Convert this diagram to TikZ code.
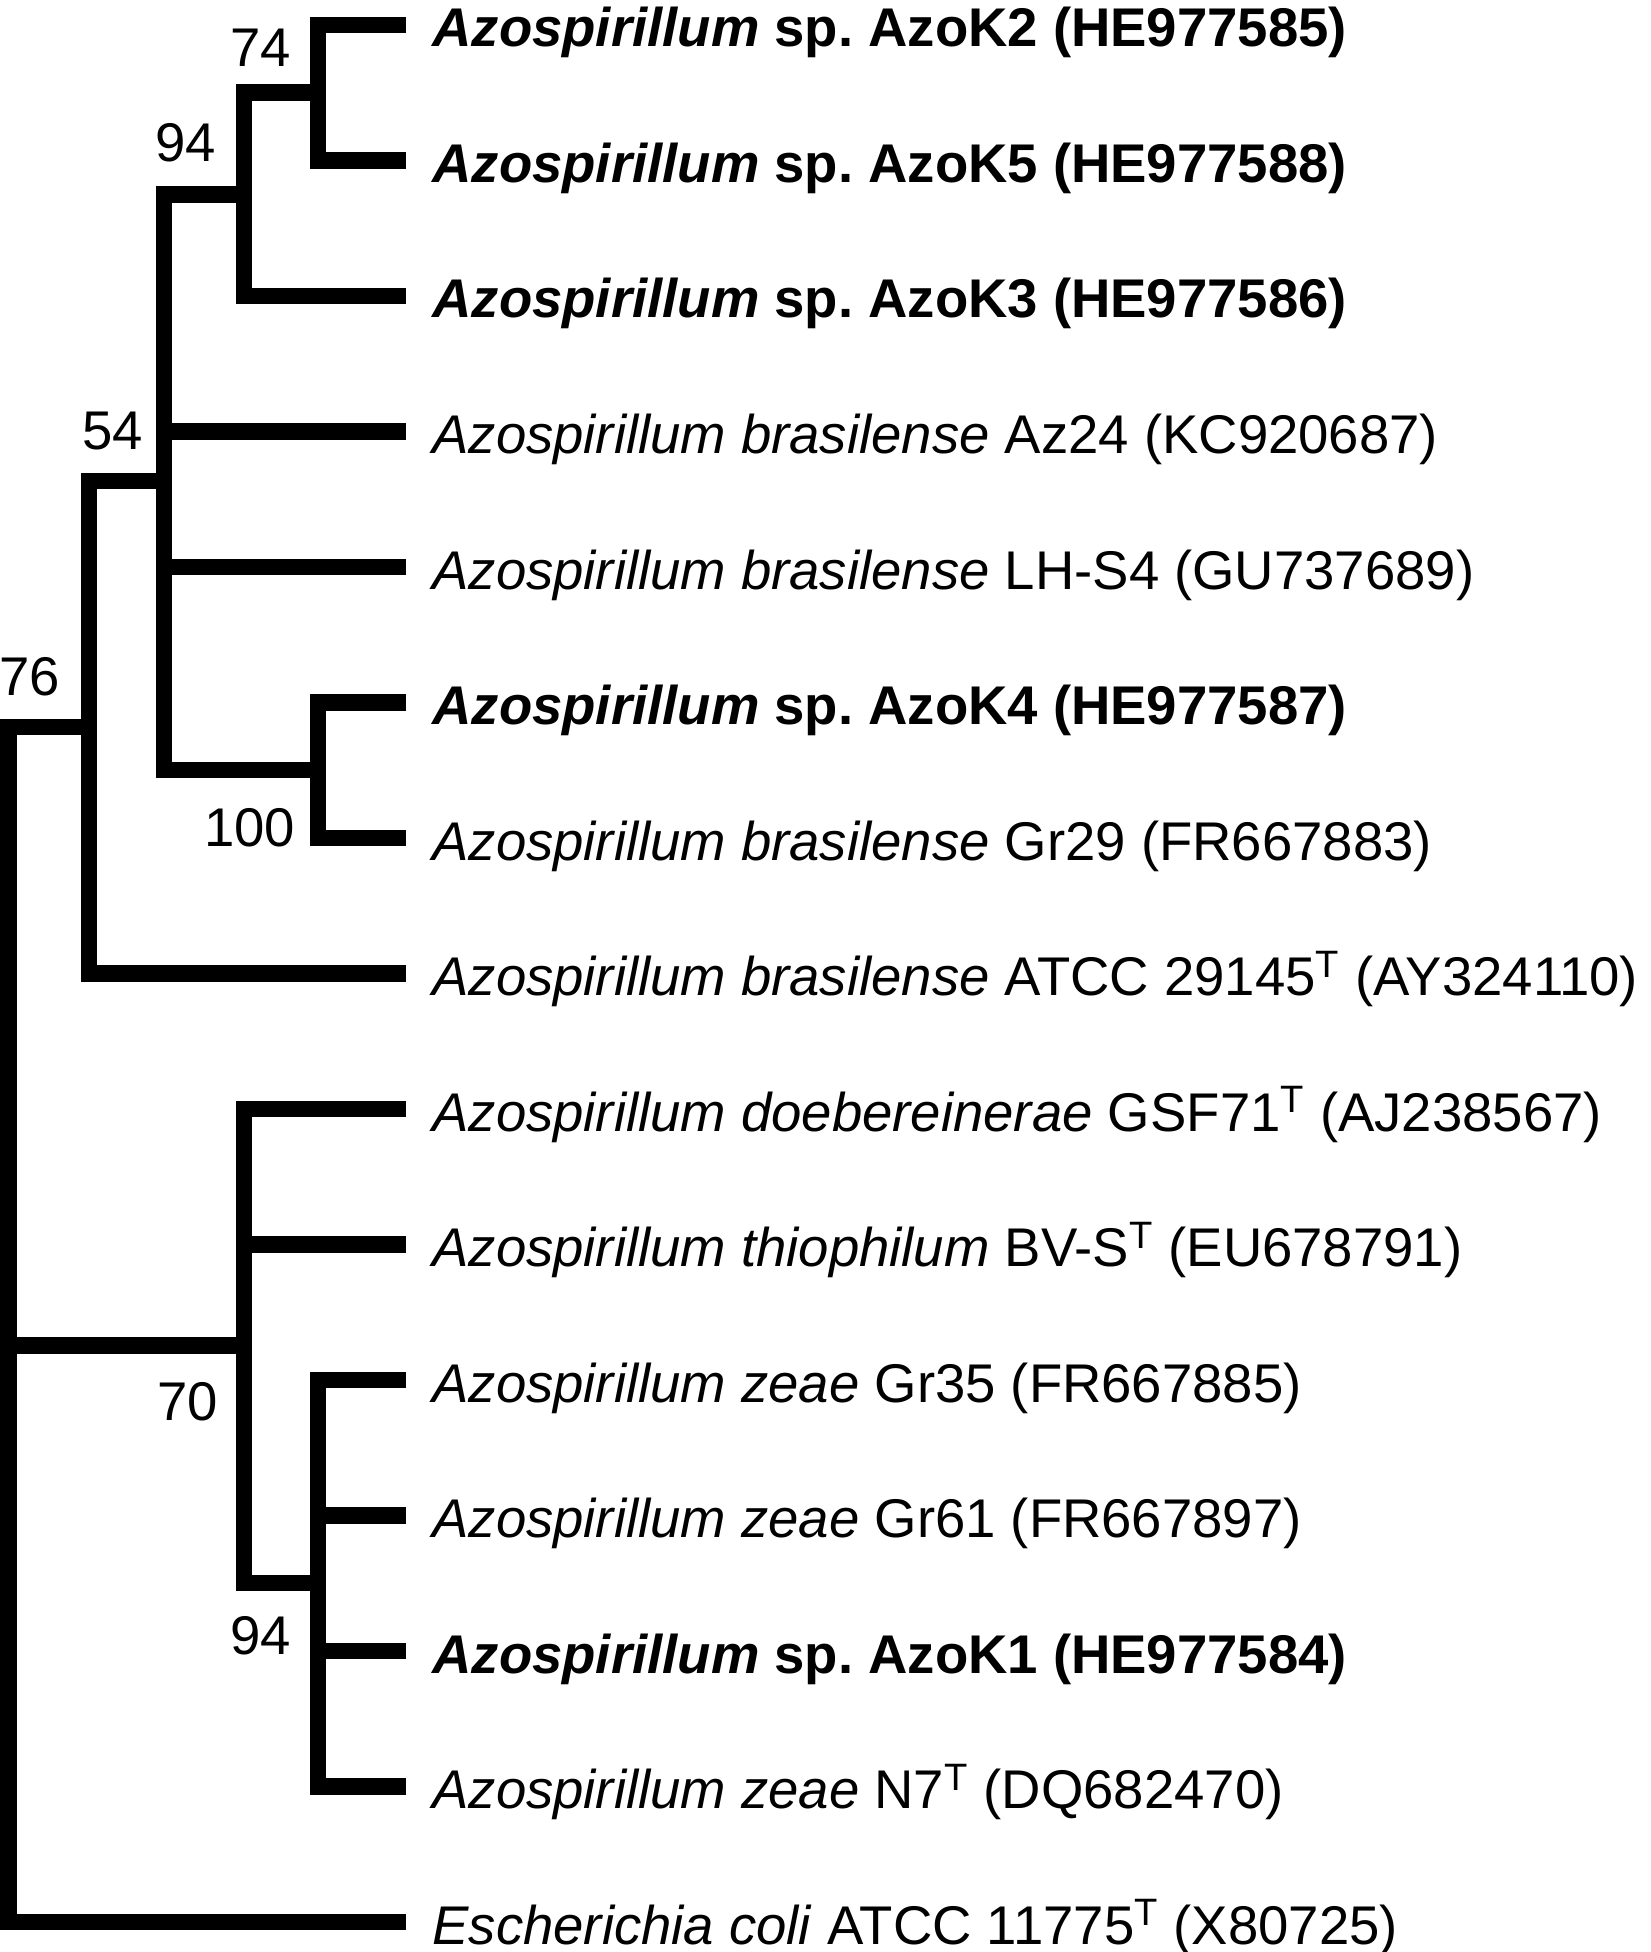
\documentclass[tikz,border=0pt]{standalone}
\usepackage{fontspec}
\setmainfont{Liberation Sans}
\usetikzlibrary{positioning}
\frenchspacing

\tikzset{
    branch/.style={line width=8.25pt, line join=miter},
    taxon/.style={anchor=base west, inner sep=0pt, font=\fontsize{27.25pt}{32pt}\selectfont},
    boot/.style={inner sep=0pt, font=\fontsize{27.25pt}{32pt}\selectfont},
}

\begin{document}
\begin{tikzpicture}[x=0.5pt, y=-0.5pt]
    \useasboundingbox (0,0) rectangle (1650,1952);

    % Tips of the branches (one per row)
    \coordinate (t1) at (406,25);
    \coordinate (t2) at (406,160.5);
    \coordinate (t3) at (406,296);
    \coordinate (t4) at (406,431.5);
    \coordinate (t5) at (406,567);
    \coordinate (t6) at (406,702.5);
    \coordinate (t7) at (406,838);
    \coordinate (t8) at (406,973.5);
    \coordinate (t9) at (406,1109);
    \coordinate (t10) at (406,1244.5);
    \coordinate (t11) at (406,1380);
    \coordinate (t12) at (406,1515.5);
    \coordinate (t13) at (406,1651);
    \coordinate (t14) at (406,1786.5);
    \coordinate (t15) at (406,1922);

    % Inner nodes of the tree
    \coordinate (n74) at (318,92.75);
    \coordinate (n94a) at (244,194.4);
    \coordinate (n54) at (164,481);
    \coordinate (n100) at (318,770);
    \coordinate (nA) at (89,727);
    \coordinate (nB) at (244,1345.5);
    \coordinate (n94b) at (318,1583);
    \coordinate (root) at (8.25,1325);

    % Branches
    \draw[branch] (t1) -| (n74) |- (t2);
    \draw[branch] (n74) -| (n94a) |- (t3);
    \draw[branch] (n94a) -| (n54) |- (n100);
    \draw[branch] (n54 |- t4) -- (t4);
    \draw[branch] (n54 |- t5) -- (t5);
    \draw[branch] (t6) -| (n100) |- (t7);
    \draw[branch] (n54) -| (nA) |- (t8);
    \draw[branch] (nA) -| (root) |- (t15);
    \draw[branch] (t9) -| (nB) |- (n94b);
    \draw[branch] (nB |- t10) -- (t10);
    \draw[branch] (root |- nB) -- (nB);
    \draw[branch] (t11) -| (n94b) |- (t14);
    \draw[branch] (n94b |- t12) -- (t12);
    \draw[branch] (n94b |- t13) -- (t13);

    % Bootstrap values
    \node[boot] (b74) at (260.5,48) {74};
    \node[boot] (b94a) at (185.5,143) {94};
    \node[boot] (b54) at (112.5,431) {54};
    \node[boot] (b76) at (30,677) {76};
    \node[boot] (b100) at (249.5,828) {100};
    \node[boot] (b70) at (187.5,1402) {70};
    \node[boot] (b94b) at (261,1635.5) {94};

    % Taxon names
    \node[taxon] (l1) at ([shift={(26,22)}]t1) {\textbf{\textit{Azospirillum} sp. AzoK2 (HE977585)}};
    \node[taxon] (l2) at ([shift={(26,22)}]t2) {\textbf{\textit{Azospirillum} sp. AzoK5 (HE977588)}};
    \node[taxon] (l3) at ([shift={(26,22)}]t3) {\textbf{\textit{Azospirillum} sp. AzoK3 (HE977586)}};
    \node[taxon] (l4) at ([shift={(26,22)}]t4) {\textit{Azospirillum brasilense} Az24 (KC920687)};
    \node[taxon] (l5) at ([shift={(26,22)}]t5) {\textit{Azospirillum brasilense} LH-S4 (GU737689)};
    \node[taxon] (l6) at ([shift={(26,22)}]t6) {\textbf{\textit{Azospirillum} sp. AzoK4 (HE977587)}};
    \node[taxon] (l7) at ([shift={(26,22)}]t7) {\textit{Azospirillum brasilense} Gr29 (FR667883)};
    \node[taxon] (l8) at ([shift={(26,22)}]t8) {\textit{Azospirillum brasilense} ATCC 29145\textsuperscript{T} (AY324110)};
    \node[taxon] (l9) at ([shift={(26,22)}]t9) {\textit{Azospirillum doebereinerae} GSF71\textsuperscript{T} (AJ238567)};
    \node[taxon] (l10) at ([shift={(26,22)}]t10) {\textit{Azospirillum thiophilum} BV-S\textsuperscript{T} (EU678791)};
    \node[taxon] (l11) at ([shift={(26,22)}]t11) {\textit{Azospirillum zeae} Gr35 (FR667885)};
    \node[taxon] (l12) at ([shift={(26,22)}]t12) {\textit{Azospirillum zeae} Gr61 (FR667897)};
    \node[taxon] (l13) at ([shift={(26,22)}]t13) {\textbf{\textit{Azospirillum} sp. AzoK1 (HE977584)}};
    \node[taxon] (l14) at ([shift={(26,22)}]t14) {\textit{Azospirillum zeae} N7\textsuperscript{T} (DQ682470)};
    \node[taxon] (l15) at ([shift={(26,22)}]t15) {\textit{Escherichia coli} ATCC 11775\textsuperscript{T} (X80725)};
\end{tikzpicture}
\end{document}
